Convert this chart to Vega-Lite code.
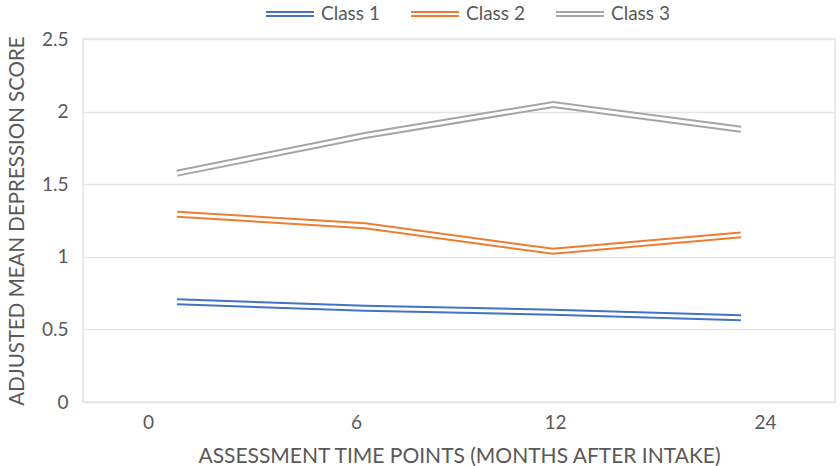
{
  "$schema": "https://vega.github.io/schema/vega-lite/v6.json",
  "width": 752,
  "height": 363,
  "autosize": "none",
  "padding": {"left": 83, "top": 39, "right": 5, "bottom": 64},
  "background": "white",
  "config": {
    "font": "Lato",
    "view": {"stroke": "#e4e4e4", "strokeWidth": 1.5},
    "axis": {"gridColor": "#e6e6e6", "gridWidth": 1.5, "domain": false, "ticks": false,
             "labelColor": "#595959", "titleColor": "#595959", "labelFontSize": 19,
             "titleFontWeight": "normal", "labelFont": "Lato", "titleFont": "Lato"}
  },
  "data": {"values": [
    {"t": "0", "cls": "Class 1", "v": 0.69},
    {"t": "6", "cls": "Class 1", "v": 0.645},
    {"t": "12", "cls": "Class 1", "v": 0.618},
    {"t": "24", "cls": "Class 1", "v": 0.58},
    {"t": "0", "cls": "Class 2", "v": 1.293},
    {"t": "6", "cls": "Class 2", "v": 1.214},
    {"t": "12", "cls": "Class 2", "v": 1.038},
    {"t": "24", "cls": "Class 2", "v": 1.151},
    {"t": "0", "cls": "Class 3", "v": 1.576},
    {"t": "6", "cls": "Class 3", "v": 1.835},
    {"t": "12", "cls": "Class 3", "v": 2.049},
    {"t": "24", "cls": "Class 3", "v": 1.878}
  ]},
  "encoding": {
    "x": {"field": "t", "type": "ordinal", "sort": ["0", "6", "12", "24"],
          "scale": {"type": "band", "paddingInner": 0, "paddingOuter": 0},
          "axis": {"title": "ASSESSMENT TIME POINTS (MONTHS AFTER INTAKE)", "labelAngle": 0, "tickBand": "extent",
                   "labelPadding": 11, "titlePadding": 13, "titleFontSize": 21,
                   "labelOffset": {"expr": "datum.value == '0' ? -29 : datum.value == '6' ? -9 : datum.value == '12' ? 2 : 24"}}},
    "y": {"field": "v", "type": "quantitative",
          "scale": {"domain": [0, 2.5]},
          "axis": {"title": "ADJUSTED MEAN DEPRESSION SCORE", "values": [0, 0.5, 1, 1.5, 2, 2.5], "format": "~g",
                   "labelPadding": 15, "titlePadding": 14, "titleFontSize": 20.5}},
    "color": {"field": "cls", "type": "nominal",
              "scale": {"domain": ["Class 1", "Class 2", "Class 3"], "range": ["#4472c4", "#ed7d31", "#a5a5a5"]}}
  },
  "layer": [
    {"mark": {"type": "line", "strokeWidth": 7}, 
     "encoding": {"color": {"field": "cls", "type": "nominal",
        "legend": {"orient": "none", "legendX": 182, "legendY": -50, "title": null, "direction": "horizontal", "padding": 0,
                   "symbolType": "M-1,-0.085L1,-0.085M-1,0.085L1,0.085", "symbolSize": 2304, "symbolStrokeWidth": 2,
                   "labelFontSize": 19, "labelColor": "#595959", "labelFont": "Lato", "labelOffset": 6, "columnPadding": 27}}}},
    {"mark": {"type": "line", "strokeWidth": 3, "color": "white"}, "encoding": {"detail": {"field": "cls"}, "color": {"value": "white"}}}
  ]
}
